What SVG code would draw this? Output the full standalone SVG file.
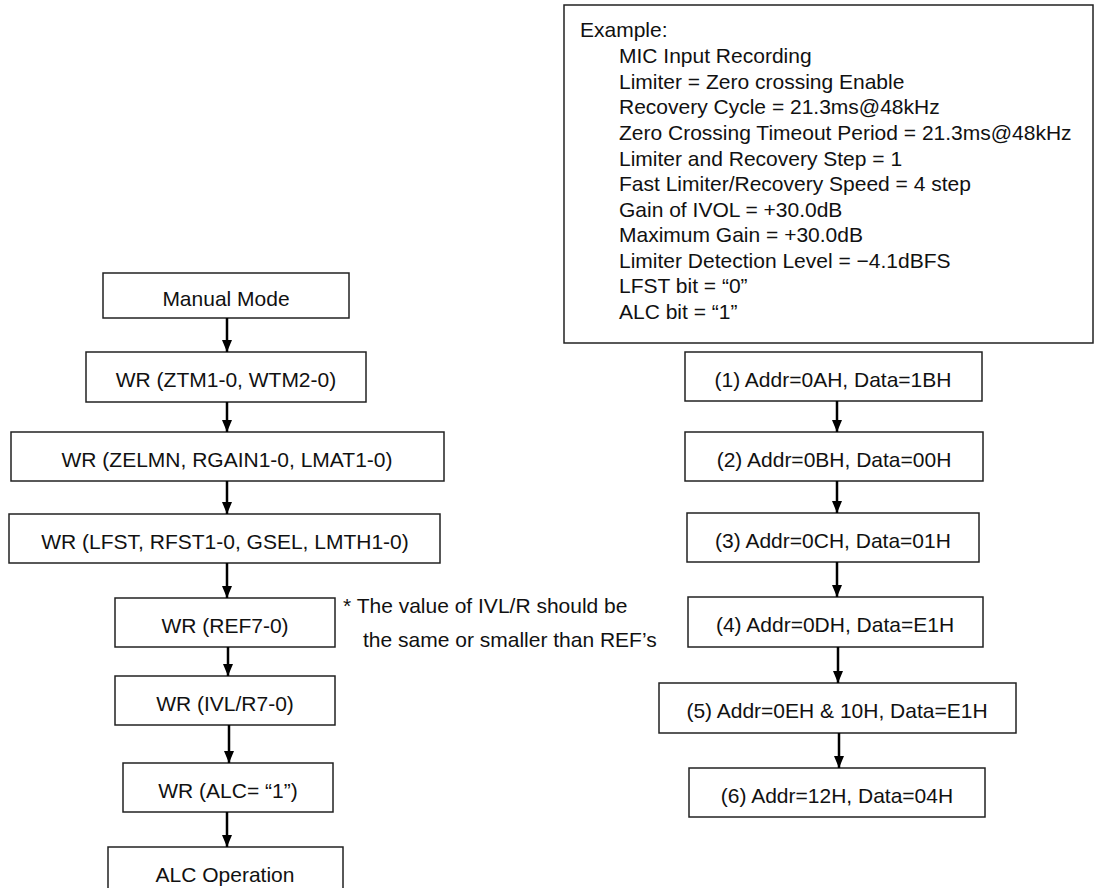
<svg xmlns="http://www.w3.org/2000/svg" width="1094" height="888" viewBox="0 0 1094 888">
<defs>
<marker id="ah" markerUnits="userSpaceOnUse" markerWidth="12" markerHeight="10" refX="12" refY="5" orient="auto" viewBox="0 0 12 10">
<path d="M0,0 L12,5 L0,10 Z" fill="#000"/>
</marker>
<style>
.box{fill:#fff;stroke:#222;stroke-width:1.5}
.t{font-family:"Liberation Sans",Arial,sans-serif;font-size:21px;fill:#111}
.c{text-anchor:middle}
.arr{stroke:#000;stroke-width:2.5;fill:none}
</style>
</defs>
<rect width="1094" height="888" fill="#fff"/>

<g id="example">
<rect class="box" x="564" y="5" width="529" height="338"/>
<text class="t" x="580" y="37">Example:</text>
<text class="t" x="619" y="63">MIC Input Recording</text>
<text class="t" x="619" y="89">Limiter = Zero crossing Enable</text>
<text class="t" x="619" y="114">Recovery Cycle = 21.3ms@48kHz</text>
<text class="t" x="619" y="140">Zero Crossing Timeout Period = 21.3ms@48kHz</text>
<text class="t" x="619" y="166">Limiter and Recovery Step = 1</text>
<text class="t" x="619" y="191">Fast Limiter/Recovery Speed = 4 step</text>
<text class="t" x="619" y="217">Gain of IVOL = +30.0dB</text>
<text class="t" x="619" y="242">Maximum Gain = +30.0dB</text>
<text class="t" x="619" y="268">Limiter Detection Level = −4.1dBFS</text>
<text class="t" x="619" y="293">LFST bit = “0”</text>
<text class="t" x="619" y="319">ALC bit = “1”</text>
</g>

<g id="manual">
<rect class="box" x="103" y="273" width="246" height="45"/>
<text class="t c" x="226" y="306">Manual Mode</text>
</g>
<g id="wr_ztm">
<rect class="box" x="86" y="352" width="280" height="50"/>
<text class="t c" x="226" y="387">WR (ZTM1-0, WTM2-0)</text>
</g>
<g id="wr_zelmn">
<rect class="box" x="11" y="432" width="433" height="49"/>
<text class="t c" x="227" y="467">WR (ZELMN, RGAIN1-0, LMAT1-0)</text>
</g>
<g id="wr_lfst">
<rect class="box" x="9" y="514" width="431" height="49"/>
<text class="t c" x="225" y="549">WR (LFST, RFST1-0, GSEL, LMTH1-0)</text>
</g>
<g id="wr_ref">
<rect class="box" x="115" y="598" width="220" height="49"/>
<text class="t c" x="225" y="633">WR (REF7-0)</text>
</g>
<g id="wr_ivl">
<rect class="box" x="115" y="676" width="220" height="49"/>
<text class="t c" x="225" y="711">WR (IVL/R7-0)</text>
</g>
<g id="wr_alc">
<rect class="box" x="123" y="763" width="210" height="49"/>
<text class="t c" x="228" y="798">WR (ALC= “1”)</text>
</g>
<g id="alc_op">
<rect class="box" x="108" y="847" width="235" height="50"/>
<text class="t c" x="225" y="882">ALC Operation</text>
</g>

<g id="note">
<text class="t" x="343" y="613">* The value of IVL/R should be</text>
<text class="t" x="363" y="647">the same or smaller than REF’s</text>
</g>

<g id="step1">
<rect class="box" x="685" y="352" width="297" height="49"/>
<text class="t c" x="833" y="387">(1) Addr=0AH, Data=1BH</text>
</g>
<g id="step2">
<rect class="box" x="685" y="432" width="298" height="49"/>
<text class="t c" x="834" y="467">(2) Addr=0BH, Data=00H</text>
</g>
<g id="step3">
<rect class="box" x="687" y="513" width="292" height="49"/>
<text class="t c" x="833" y="548">(3) Addr=0CH, Data=01H</text>
</g>
<g id="step4">
<rect class="box" x="688" y="597" width="295" height="50"/>
<text class="t c" x="835" y="632">(4) Addr=0DH, Data=E1H</text>
</g>
<g id="step5">
<rect class="box" x="659" y="683" width="357" height="50"/>
<text class="t c" x="837" y="718">(5) Addr=0EH &amp; 10H, Data=E1H</text>
</g>
<g id="step6">
<rect class="box" x="689" y="768" width="296" height="49"/>
<text class="t c" x="837" y="803">(6) Addr=12H, Data=04H</text>
</g>

<g id="connectors">
<line class="arr" x1="227" y1="318" x2="227" y2="352" marker-end="url(#ah)"/>
<line class="arr" x1="227" y1="402" x2="227" y2="432" marker-end="url(#ah)"/>
<line class="arr" x1="227" y1="481" x2="227" y2="514" marker-end="url(#ah)"/>
<line class="arr" x1="227" y1="563" x2="227" y2="598" marker-end="url(#ah)"/>
<line class="arr" x1="228" y1="647" x2="228" y2="676" marker-end="url(#ah)"/>
<line class="arr" x1="229" y1="725" x2="229" y2="763" marker-end="url(#ah)"/>
<line class="arr" x1="227" y1="812" x2="227" y2="847" marker-end="url(#ah)"/>
<line class="arr" x1="837" y1="401" x2="837" y2="432" marker-end="url(#ah)"/>
<line class="arr" x1="837" y1="481" x2="837" y2="513" marker-end="url(#ah)"/>
<line class="arr" x1="837" y1="562" x2="837" y2="597" marker-end="url(#ah)"/>
<line class="arr" x1="838" y1="647" x2="838" y2="683" marker-end="url(#ah)"/>
<line class="arr" x1="839" y1="733" x2="839" y2="768" marker-end="url(#ah)"/>
</g>
</svg>
